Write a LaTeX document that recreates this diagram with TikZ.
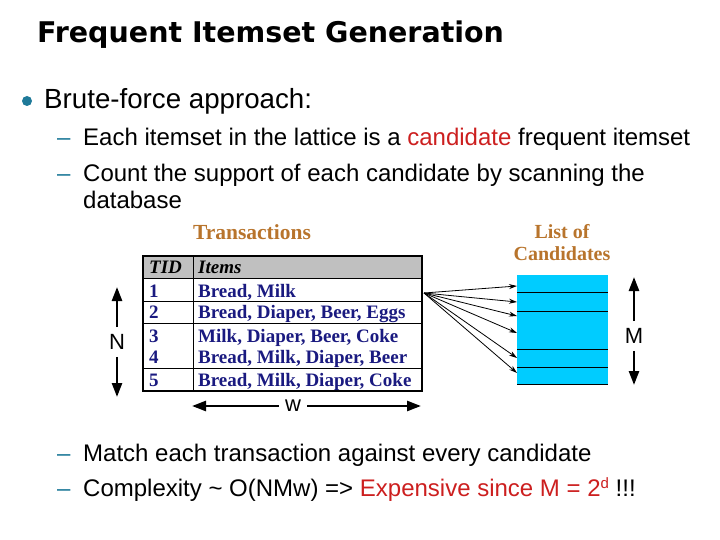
\documentclass[tikz,border=0pt]{standalone}
\usepackage{fontspec}
\setmainfont{Liberation Sans}
\newfontfamily\titlefont{DejaVu Sans}
\newfontfamily\tabfont{Liberation Serif}
\usetikzlibrary{arrows.meta}
\definecolor{navy}{HTML}{1A1A80}
\definecolor{brownish}{HTML}{B8742C}
\definecolor{cand}{HTML}{00CCFF}
\definecolor{hdr}{HTML}{C0C0C0}
\definecolor{redtxt}{HTML}{CC1F1F}
\definecolor{tealb}{HTML}{1F7A99}
\tikzset{
  txt/.style={anchor=base west, inner sep=0pt},
  body/.style={txt, font=\fontsize{24}{28}\selectfont},
  dashmark/.style={txt, text=tealb, font=\fontsize{24}{28}\selectfont},
  tab/.style={txt, text=navy, font=\tabfont\bfseries\fontsize{19}{21}\selectfont},
  tabhead/.style={txt, text=black, font=\tabfont\bfseries\itshape\fontsize{19}{21}\selectfont},
  caption/.style={anchor=base, inner sep=0pt, text=brownish, font=\tabfont\bfseries\fontsize{20}{22}\selectfont},
  bigarrow/.style={line width=2.5pt, -{Triangle[length=14pt,width=10pt]}},
  fan/.style={line width=0.8pt, -{Stealth[length=8pt,width=5pt]}},
  dim/.style={inner xsep=0pt, inner ysep=7pt, font=\fontsize{22}{24}\selectfont},
}
\begin{document}
\begin{tikzpicture}[x=1pt,y=-1pt]
\useasboundingbox (0,0) rectangle (720,540);
% title
\node[txt, font=\titlefont\bfseries\fontsize{28.5}{32}\selectfont] (title) at (37,43) {Frequent Itemset Generation};
% bullet
\node[circle, fill=tealb, minimum size=10pt, inner sep=0pt] (bul) at (27,101) {};
\node[txt, font=\fontsize{27.7}{32}\selectfont] (l1) at (44,109) {Brute-force approach:};
\node[dashmark] (d1) at (57,146) {--};
\node[body] (l2) at (83,146) {Each itemset in the lattice is a \textcolor{redtxt}{candidate} frequent itemset};
\node[dashmark] (d2) at (57,182) {--};
\node[body] (l3) at (83,182) {Count the support of each candidate by scanning the};
\node[body] (l4) at (83,209) {database};
\node[dashmark] (d3) at (57,461) {--};
\node[body] (l5) at (83,461) {Match each transaction against every candidate};
\node[dashmark] (d4) at (57,496) {--};
\node[body] (l6) at (83,496) {Complexity \textasciitilde{} O(NMw) => \textcolor{redtxt}{Expensive since M = 2\raisebox{8pt}{\fontsize{15}{17}\selectfont d}} !!!};
% transactions table
\node[caption, font=\tabfont\bfseries\fontsize{21.5}{23}\selectfont] (trcap) at (252,240) {Transactions};
\fill[hdr] (143,256) rectangle (422,278);
\draw[line width=1pt] (143,278) -- (422,278);
\draw[line width=1pt] (143,301) -- (422,301);
\draw[line width=1pt] (143,323) -- (422,323);
\draw[line width=1pt] (143,368) -- (422,368);
\draw[line width=1pt] (193,256) -- (193,391);
\draw[line width=1.6pt] (143,256) rectangle (422,391);
\node[tabhead] (h1) at (149,273) {TID};
\node[tabhead] (h2) at (198,273) {Items};
\node[tab] (t1) at (149,297) {1};
\node[tab] (i1) at (198,297) {Bread, Milk};
\node[tab] (t2) at (149,318) {2};
\node[tab] (i2) at (198,318) {Bread, Diaper, Beer, Eggs};
\node[tab] (t3) at (149,342) {3};
\node[tab] (i3) at (198,342) {Milk, Diaper, Beer, Coke};
\node[tab] (t4) at (149,363) {4};
\node[tab] (i4) at (198,363) {Bread, Milk, Diaper, Beer};
\node[tab] (t5) at (149,386) {5};
\node[tab] (i5) at (198,386) {Bread, Milk, Diaper, Coke};
% N arrow
\node[dim] (N) at (117,342) {N};
\coordinate (Ntop) at (117,287);
\coordinate (Nbot) at (117,397);
\draw[bigarrow] (N.north) -- (Ntop);
\draw[bigarrow] (N.south) -- (Nbot);
% w arrow
\node[dim, inner xsep=6pt, inner ysep=0pt] (w) at (293,406) {w};
\coordinate (wl) at (192,406);
\coordinate (wr) at (421,406);
\draw[bigarrow] (w.west) -- (wl);
\draw[bigarrow] (w.east) -- (wr);
% candidates
\node[caption] (lc1) at (562,238) {List of};
\node[caption] (lc2) at (562,260) {Candidates};
\fill[cand] (517,275) rectangle (608,384);
\foreach \yy in {292,311,349,367,384} \draw[line width=0.8pt] (517,\yy) -- (608,\yy);
% M arrow
\node[dim] (M) at (634,336) {M};
\coordinate (Mtop) at (634,277);
\coordinate (Mbot) at (634,385);
\draw[bigarrow] (M.north) -- (Mtop);
\draw[bigarrow] (M.south) -- (Mbot);
% fan
\coordinate (src) at (424,293);
\coordinate (c1) at (517,286);
\coordinate (c2) at (517,302);
\coordinate (c3) at (517,316);
\coordinate (c4) at (517,333);
\coordinate (c5) at (517,358);
\coordinate (c6) at (517,373);
\foreach \c in {c1,c2,c3,c4,c5,c6} \draw[fan] (src) -- (\c);
\end{tikzpicture}
\end{document}
